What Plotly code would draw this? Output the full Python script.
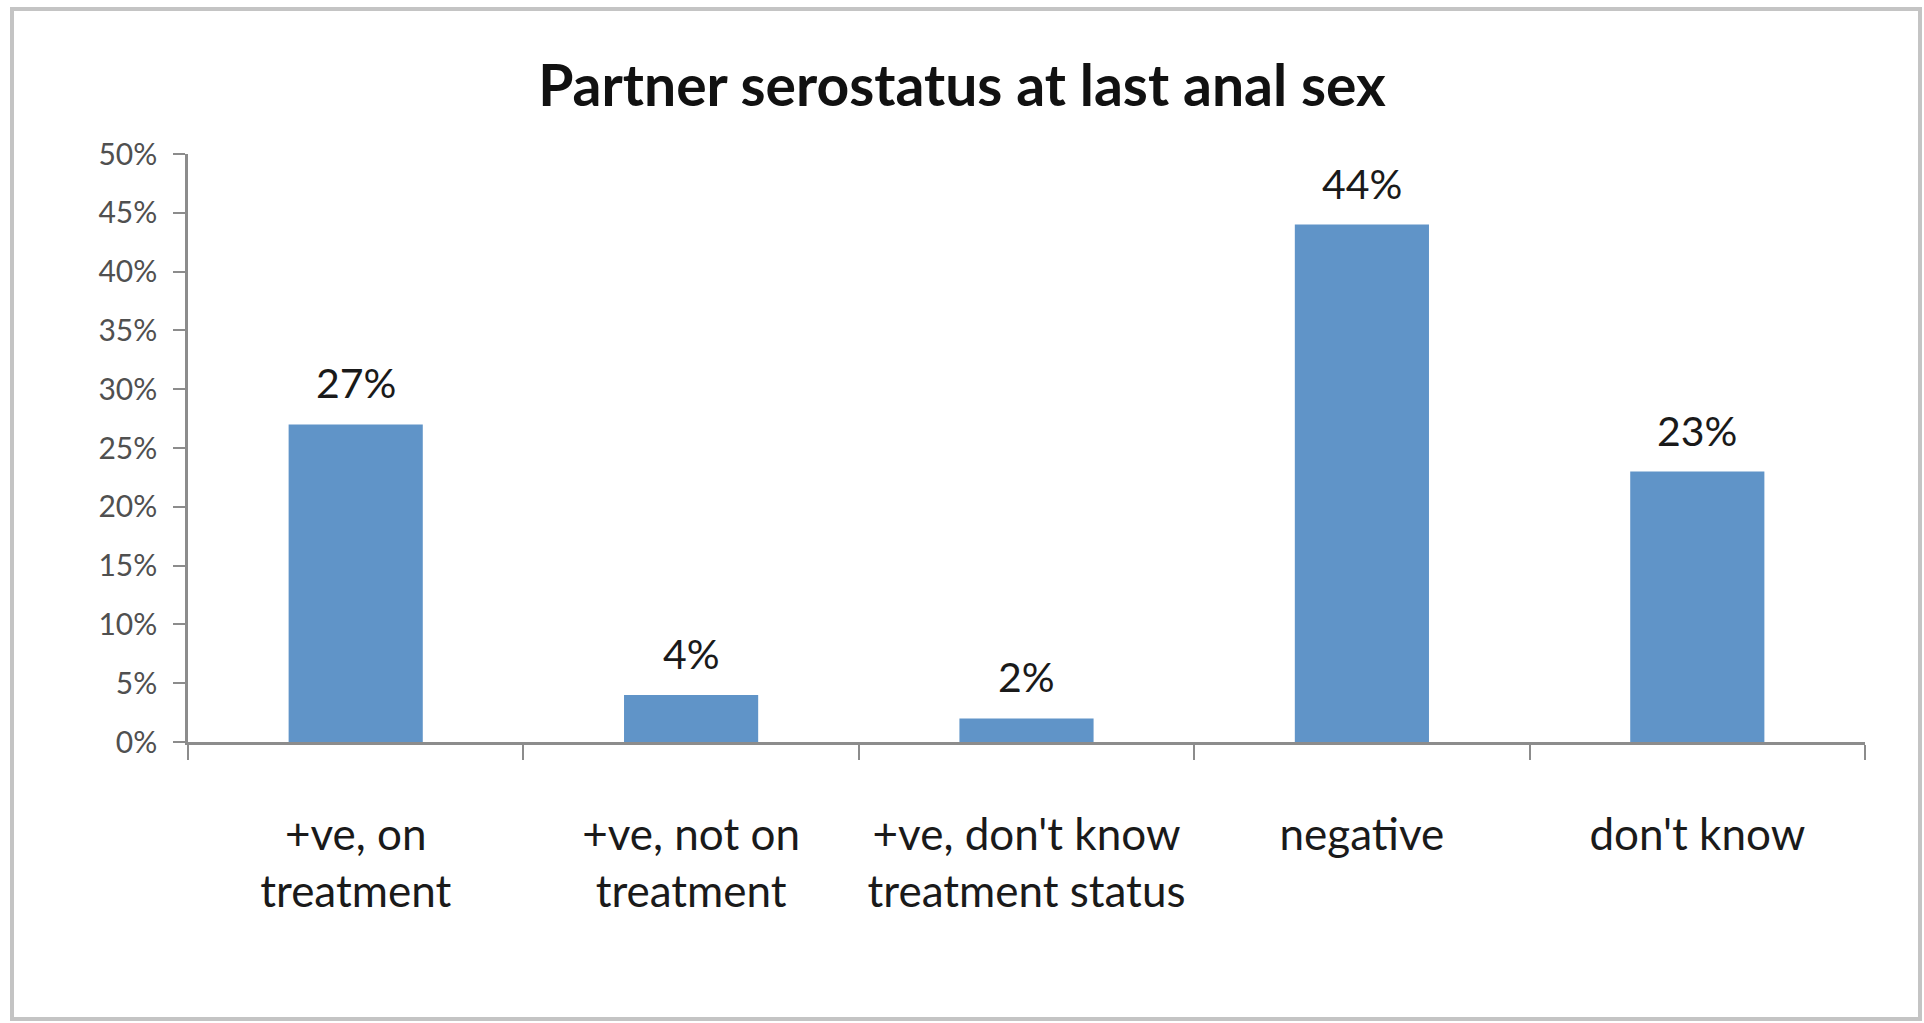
import plotly.graph_objects as go

categories = ["+ve, on<br>treatment", "+ve, not on<br>treatment", "+ve, don't know<br>treatment status", "negative", "don't know"]
values = [27, 4, 2, 44, 23]
y_ticks = [0, 5, 10, 15, 20, 25, 30, 35, 40, 45, 50]
title_text = "Partner serostatus at last anal sex"

W, H = 1924, 1023
L, R, T, B = 188, 1865, 154, 742
pw, ph = R - L, B - T

fig = go.Figure()
fig.add_trace(go.Bar(
    x=categories, y=values,
    marker=dict(color="#6094c8", line=dict(width=0)),
    width=0.4,
    hoverinfo="skip",
))

for c, v in zip(categories, values):
    fig.add_annotation(x=c, y=v, text=f"{v}%", showarrow=False,
                       yanchor="bottom", yshift=15,
                       font=dict(family="Lato", size=41, color="#1a1a1a"))

fig.add_shape(type="rect", xref="paper", yref="paper",
              x0=(12 - L) / pw, x1=(1920 - L) / pw,
              y0=(B - 1019) / ph, y1=(B - 9) / ph,
              line=dict(color="#c4c4c4", width=4), layer="below")

fig.update_layout(
    width=W, height=H,
    margin=dict(l=L, r=W - R, t=T, b=H - B, pad=0),
    paper_bgcolor="white", plot_bgcolor="white",
    showlegend=False,
    bargap=0.6,
    title=dict(text=title_text, x=0.5, xanchor="center",
               y=1 - 86 / H, yanchor="middle", yref="container",
               font=dict(family="Lato", size=57, color="#111111", weight="bold")),
    xaxis=dict(
        showline=True, linecolor="#8c8c8c", linewidth=2.5,
        ticks="outside", tickson="boundaries", ticklen=15, tickwidth=2,
        tickcolor="#8c8c8c",
        tickfont=dict(family="Lato", size=44, color="#1a1a1a"),
        ticklabelstandoff=52,
        showgrid=False, zeroline=False,
    ),
    yaxis=dict(
        range=[0, 50], tickvals=y_ticks, ticktext=[f"{t}%" for t in y_ticks],
        showline=True, linecolor="#8c8c8c", linewidth=2.5,
        ticks="outside", ticklen=12, tickwidth=2, tickcolor="#8c8c8c",
        tickfont=dict(family="Lato", size=30, color="#505050"),
        ticklabelstandoff=10,
        showgrid=False, zeroline=False,
    ),
)

fig.write_html("out.html", config={"displayModeBar": False},
               post_script="document.body.style.margin='0px';")
